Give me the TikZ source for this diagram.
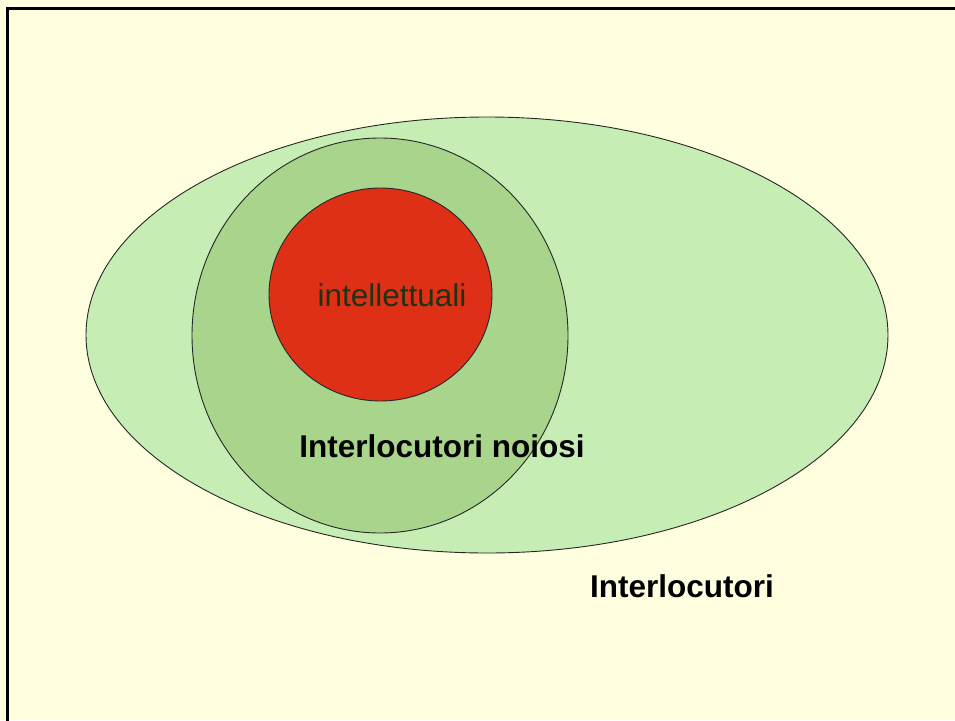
\documentclass[tikz,border=0pt]{standalone}
\usepackage{fontspec}
\setmainfont{Liberation Sans}
\usepackage{tikz}
\usetikzlibrary{shapes.geometric,positioning}

\definecolor{sfondo}{RGB}{255,255,224}
\definecolor{verdechiaro}{RGB}{198,238,180}
\definecolor{verdescuro}{RGB}{168,212,140}
\definecolor{rosso}{RGB}{222,48,22}
\definecolor{scritta}{RGB}{30,50,20}

\begin{document}
\begin{tikzpicture}[x=1pt, y=-1pt,
    every node/.append style={align=center, font=\fontsize{31.5}{36}\selectfont},
    insieme/.style={draw=black!85, line width=0.9pt, ellipse, inner sep=0pt},
    etichetta/.style={inner sep=0pt, font=\fontsize{31.5}{36}\selectfont\bfseries}]
   \useasboundingbox (0,0) rectangle (955,720);
   \fill[sfondo] (0,0) rectangle (955,720);
   \draw[line width=3pt] (7.5,730) -- (7.5,8) -- (965,8);

   \node [insieme, fill=verdechiaro, minimum width=802pt, minimum height=436pt] (T) at (487,335) {};
   \node [insieme, fill=verdescuro, minimum width=376pt, minimum height=395pt] (N) at (380,335.5) {};
   \node [insieme, fill=rosso, minimum width=223pt, minimum height=213pt] (C) at (380.5,294.5) {};

   \node [inner sep=0pt, text=scritta] (c) at (392,295) {intellettuali};
   \node [etichetta] (n) at (442,446) {Interlocutori noiosi};
   \node [etichetta] (t) at (682,586) {Interlocutori};
\end{tikzpicture}
\end{document}
